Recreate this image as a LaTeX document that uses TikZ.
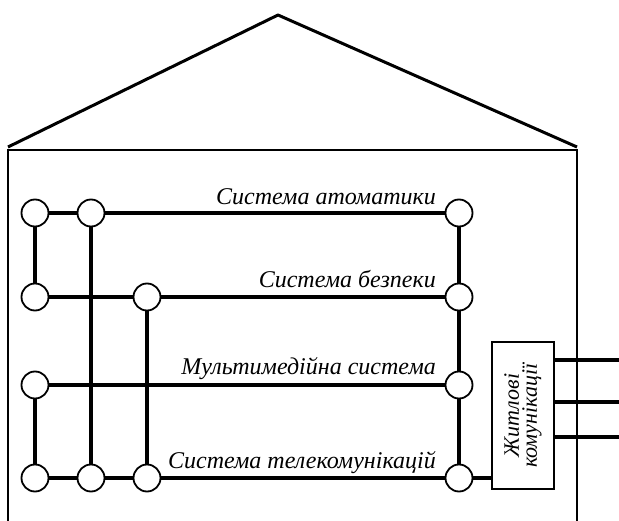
\documentclass[tikz,border=0pt]{standalone}
\usepackage{fontspec}
\setmainfont{Liberation Serif}
\tikzset{
  port/.style={circle,draw,fill=white,line width=1.8pt,minimum size=27pt,inner sep=0pt},
  wire/.style={line width=3.4pt},
  wall/.style={line width=2.4pt},
  syslabel/.style={anchor=base east,inner sep=0pt,font=\fontsize{24}{26}\selectfont\itshape},
  commbox/.style={draw,line width=2pt,rotate=90,minimum width=147pt,minimum height=62pt,
    align=center,inner sep=0pt,font=\fontsize{22}{18}\selectfont\itshape}
}
\begin{document}
\begin{tikzpicture}[x=1pt,y=-1pt]
      \useasboundingbox (0,0) rectangle (619,521);
      % house
      \draw[wall,line width=3pt,line join=round] (8,147) -- (278,15) -- (577,147);
      \draw[wall] (8,521) -- (8,150) -- (577,150) -- (577,521);
      % ports
      \node[port] (a1) at (35,213) {};
      \node[port] (a2) at (91,213) {};
      \node[port] (a4) at (459,213) {};
      \node[port] (b1) at (35,297) {};
      \node[port] (b3) at (147,297) {};
      \node[port] (b4) at (459,297) {};
      \node[port] (m1) at (35,385) {};
      \node[port] (m4) at (459,385) {};
      \node[port] (t1) at (35,478) {};
      \node[port] (t2) at (91,478) {};
      \node[port] (t3) at (147,478) {};
      \node[port] (t4) at (459,478) {};
      % labels
      \node[syslabel] (la) at (436,205) {Система атоматики};
      \node[syslabel] (lb) at (436,288) {Система безпеки};
      \node[syslabel] (lm) at (436,375) {Мультимедійна система};
      \node[syslabel] (lt) at (436,468) {Система телекомунікацій};
      \node[commbox] (box) at (523,415.5) {Житлові\\комунікації};
      \coordinate (o1) at (619,360);
      \coordinate (o2) at (619,402);
      \coordinate (o3) at (619,437);
      \begin{scope}[wire]
        \draw (a1) -- (a2) -- (a4);
        \draw (b1) -- (b3) -- (b4);
        \draw (m1) -- (m4);
        \draw (t1) -- (t2) -- (t3) -- (t4);
        \draw (a1) -- (b1);
        \draw (m1) -- (t1);
        \draw (a2) -- (t2);
        \draw (b3) -- (t3);
        \draw (a4) -- (b4) -- (m4) -- (t4);
        \draw (t4) -- (box.north |- t4);
        \draw (box.south |- o1) -- (o1);
        \draw (box.south |- o2) -- (o2);
        \draw (box.south |- o3) -- (o3);
      \end{scope}
    \end{tikzpicture}
\end{document}
